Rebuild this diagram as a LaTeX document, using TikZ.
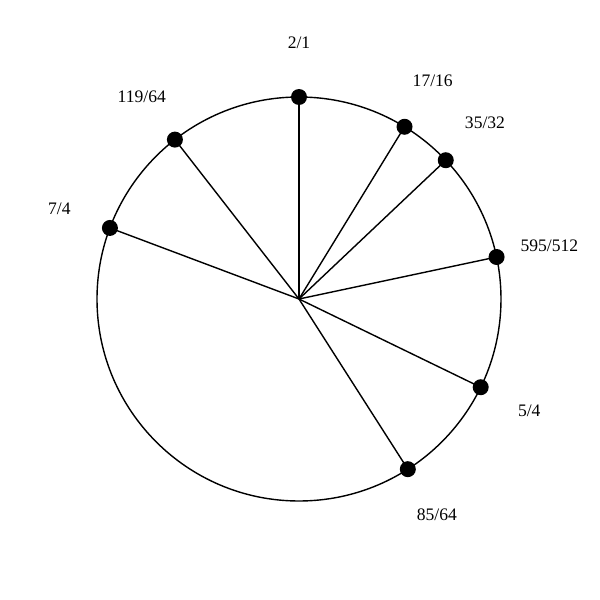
\documentclass[tikz,border=0pt]{standalone}
\usepackage{fontspec}
\setmainfont{Liberation Serif}
\begin{document}
\begin{tikzpicture}
  \tikzset{ratio/.style={font=\fontsize{12.5}{14}\selectfont},
           tone/.style={circle,fill=black,inner sep=0pt,minimum size=0.4cm},
           spoke/.style={line width=1pt}}
  \useasboundingbox (-7.475,-7.525) rectangle (7.525,7.475);
  \coordinate (O) at (0,0);
  \draw [line width=1pt] (O) circle (5.05);
  % spokes at log2 of each ratio, clockwise from the top
  \node [tone] (p0) at (90:5.05) {};
  \node [tone] (p1) at (58.5:5.05) {};
  \node [tone] (p2) at (43.4:5.05) {};
  \node [tone] (p3) at (12.0:5.05) {};
  \node [tone] (p4) at (-25.9:5.05) {};
  \node [tone] (p5) at (-57.4:5.05) {};
  \node [tone] (p6) at (-200.6:5.05) {};
  \node [tone] (p7) at (-232.1:5.05) {};
  \draw [spoke] (O) -- (p0.center);
  \draw [spoke] (O) -- (p1.center);
  \draw [spoke] (O) -- (p2.center);
  \draw [spoke] (O) -- (p3.center);
  \draw [spoke] (O) -- (p4.center);
  \draw [spoke] (O) -- (p5.center);
  \draw [spoke] (O) -- (p6.center);
  \draw [spoke] (O) -- (p7.center);
  \node [ratio] (l0) at (90:6.4) {2/1};
  \node [ratio] (l1) at (58.5:6.4) {17/16};
  \node [ratio] (l2) at (43.4:6.4) {35/32};
  \node [ratio] (l3) at (12.0:6.4) {595/512};
  \node [ratio] (l4) at (-25.9:6.4) {5/4};
  \node [ratio] (l5) at (-57.4:6.4) {85/64};
  \node [ratio] (l6) at (-200.6:6.4) {7/4};
  \node [ratio] (l7) at (-232.1:6.4) {119/64};
\end{tikzpicture}
\end{document}
